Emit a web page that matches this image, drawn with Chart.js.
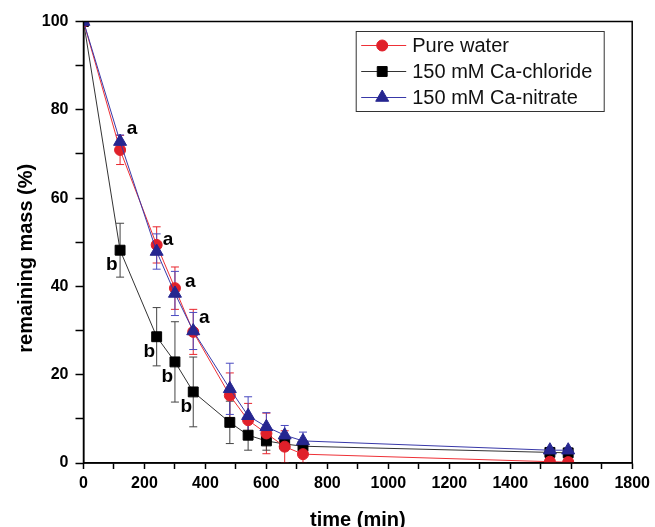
<!DOCTYPE html>
<html>
<head>
<meta charset="utf-8">
<script src="https://cdn.jsdelivr.net/npm/chart.js@4.4.1/dist/chart.umd.min.js"></script>
<style>
  html, body { margin: 0; padding: 0; background: #fff; }
</style>
</head>
<body>
<canvas id="chart" width="655" height="527"></canvas>
<script>
// sampling times (min)
const times = [0, 120, 240, 300, 360, 480, 540, 600, 660, 720, 1530, 1590];

// remaining mass (%) and +/- error for each treatment
const pureWater    = [100, 70.9, 49.4, 39.6, 29.7, 15.3, 9.7, 6.7, 3.7, 2.0, 0.3, 0.2];
const pureWaterErr = [0, 3.3, 4.1, 4.8, 5.1, 5.1, 3.8, 4.6, 3.6, 2.0, 0.3, 0.3];
const caChloride    = [100, 48.2, 28.6, 22.9, 16.1, 9.2, 6.3, 5.0, 4.3, 3.8, 2.4, 2.3];
const caChlorideErr = [0, 6.1, 6.6, 9.1, 7.9, 4.8, 3.4, 2.1, 1.5, 1.2, 0.4, 0.4];
const caNitrate    = [100, 72.8, 47.9, 38.4, 29.9, 16.8, 10.7, 8.2, 6.3, 5.0, 2.9, 2.9];
const caNitrateErr = [0, 1.5, 4.0, 5.0, 4.2, 5.8, 4.3, 3.2, 2.2, 2.0, 0.5, 0.5];

// significance letters, placed in data units
const letterText = ['a', 'a', 'a', 'a', 'b', 'b', 'b', 'b'];
const letterX = [159, 277, 350, 396, 93, 216, 275, 337];
const letterY = [75.6, 50.5, 41, 33, 44.8, 25.2, 19.5, 12.8];

const FONT = '"Liberation Sans", Arial, Helvetica, sans-serif';

const toPoints = vals => vals.map((v, i) => ({ x: times[i], y: v }));

const errorBars = {
  id: 'errorBars',
  beforeDatasetsDraw(chart) {
    const { ctx, chartArea, scales: { x, y } } = chart;
    ctx.save();
    ctx.beginPath();
    ctx.rect(chartArea.left, chartArea.top, chartArea.width, chartArea.height);
    ctx.clip();
    chart.data.datasets.forEach(ds => {
      ctx.strokeStyle = ds.errorColor;
      ctx.lineWidth = 1;
      ds.errors.forEach((e, j) => {
        if (!e) return;
        const px = x.getPixelForValue(ds.data[j].x);
        const top = y.getPixelForValue(ds.data[j].y + e);
        const bot = y.getPixelForValue(ds.data[j].y - e);
        ctx.beginPath();
        ctx.moveTo(px, top); ctx.lineTo(px, bot);
        ctx.moveTo(px - 4, top); ctx.lineTo(px + 4, top);
        ctx.moveTo(px - 4, bot); ctx.lineTo(px + 4, bot);
        ctx.stroke();
      });
    });
    ctx.restore();
  }
};

const letters = {
  id: 'letters',
  afterDatasetsDraw(chart) {
    const { ctx, scales: { x, y } } = chart;
    ctx.save();
    ctx.fillStyle = '#000';
    ctx.font = 'bold 19px ' + FONT;
    ctx.textAlign = 'center';
    ctx.textBaseline = 'middle';
    letterText.forEach((t, i) => {
      ctx.fillText(t, x.getPixelForValue(letterX[i]), y.getPixelForValue(letterY[i]));
    });
    ctx.restore();
  }
};

// box round the plot, the y title (sits a bit low in the original) and the boxed legend
const frameAndLegend = {
  id: 'frameAndLegend',
  afterDraw(chart) {
    const { ctx, chartArea } = chart;
    ctx.save();
    ctx.strokeStyle = '#000';
    ctx.lineWidth = 1.5;
    ctx.strokeRect(chartArea.left, chartArea.top, chartArea.width, chartArea.height);

    ctx.save();
    ctx.translate(26, (chartArea.top + chartArea.bottom) / 2 + 16);
    ctx.rotate(-Math.PI / 2);
    ctx.fillStyle = '#000';
    ctx.font = 'bold 20px ' + FONT;
    ctx.textAlign = 'center';
    ctx.textBaseline = 'middle';
    ctx.fillText('remaining mass (%)', 0, 0);
    ctx.restore();

    const left = chartArea.right - 276, top = chartArea.top + 10;
    ctx.lineWidth = 1;
    ctx.strokeStyle = '#333';
    ctx.strokeRect(left, top, 248, 80);
    ctx.font = '20px ' + FONT;
    ctx.textBaseline = 'middle';
    ctx.textAlign = 'left';
    chart.data.datasets.forEach((ds, i) => {
      const yy = top + 14 + i * 26;
      ctx.strokeStyle = ds.borderColor;
      ctx.lineWidth = 1;
      ctx.beginPath();
      ctx.moveTo(left + 5, yy); ctx.lineTo(left + 50, yy);
      ctx.stroke();
      ctx.fillStyle = ds.pointBackgroundColor;
      ctx.strokeStyle = ds.pointBackgroundColor;
      Chart.helpers.drawPoint(ctx, { pointStyle: ds.pointStyle, radius: ds.pointRadius, rotation: 0, borderWidth: 1 }, left + 26, yy);
      ctx.fillStyle = '#111';
      ctx.fillText(ds.label, left + 56, yy + 1);
    });
    ctx.restore();
  }
};

new Chart(document.getElementById('chart'), {
  type: 'line',
  data: {
    datasets: [{
      label: 'Pure water',
      data: toPoints(pureWater),
      errors: pureWaterErr,
      errorColor: '#e8262d',
      borderColor: '#ee3036',
      borderWidth: 1,
      pointStyle: 'circle',
      pointRadius: 5.5,
      pointBackgroundColor: '#e0202a',
      pointBorderColor: '#e0202a',
      order: 1
    }, {
      label: '150 mM Ca-chloride',
      data: toPoints(caChloride),
      errors: caChlorideErr,
      errorColor: '#444',
      borderColor: '#333',
      borderWidth: 1,
      pointStyle: 'rect',
      pointRadius: 7,
      pointBackgroundColor: '#000',
      pointBorderColor: '#000',
      order: 2
    }, {
      label: '150 mM Ca-nitrate',
      data: toPoints(caNitrate),
      errors: caNitrateErr,
      errorColor: '#4a4ac0',
      borderColor: '#3838a8',
      borderWidth: 1,
      pointStyle: 'triangle',
      pointRadius: 7.5,
      pointBackgroundColor: '#262690',
      pointBorderColor: '#262690',
      order: 0
    }]
  },
  options: {
    responsive: false,
    animation: false,
    layout: { padding: { top: 21.5, right: 22.5, left: 0, bottom: 0 } },
    plugins: { legend: { display: false }, tooltip: { enabled: false } },
    scales: {
      x: {
        type: 'linear',
        min: 0,
        max: 1800,
        afterFit(s) { s.height = 64; },
        border: { color: '#000', width: 1.5 },
        grid: { drawOnChartArea: false, tickLength: 6, tickColor: '#000', tickWidth: 1.5 },
        ticks: {
          stepSize: 100,
          autoSkip: false,
          maxRotation: 0,
          padding: 5,
          color: '#000',
          font: { family: FONT, size: 16, weight: 'bold' },
          callback: v => (v % 200 === 0 ? v : '')
        },
        title: {
          display: true,
          text: 'time (min)',
          color: '#000',
          font: { family: FONT, size: 20, weight: 'bold', lineHeight: 1 },
          padding: { top: 0, bottom: -3 }
        }
      },
      y: {
        min: 0,
        max: 100,
        afterFit(s) { s.width = 83.5; },
        border: { color: '#000', width: 1.5 },
        grid: { drawOnChartArea: false, tickLength: 8, tickColor: '#000', tickWidth: 1.5 },
        ticks: {
          stepSize: 10,
          autoSkip: false,
          padding: 7,
          color: '#000',
          font: { family: FONT, size: 16, weight: 'bold' },
          callback: v => (v % 20 === 0 ? v : '')
        }
      }
    }
  },
  plugins: [errorBars, letters, frameAndLegend]
});
</script>
</body>
</html>
